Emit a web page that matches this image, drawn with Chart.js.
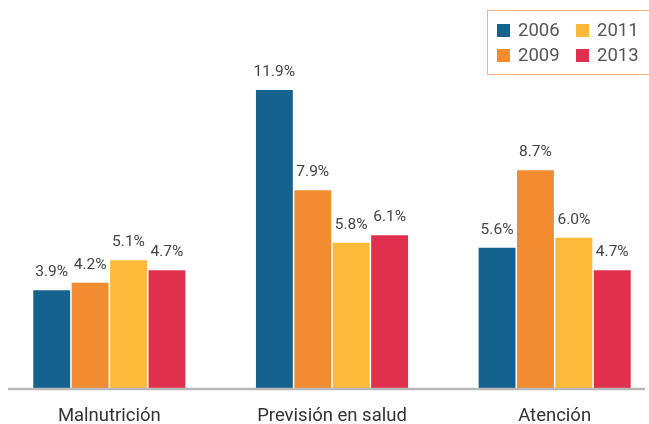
<!DOCTYPE html>
<html>
<head>
<meta charset="utf-8">
<script src="https://cdn.jsdelivr.net/npm/chart.js@4/dist/chart.umd.min.js"></script>
<style>
  html, body { margin: 0; padding: 0; background: #fff; overflow: hidden; }
  #wrap { position: relative; width: 649px; height: 424px; overflow: hidden; }
  #wrap canvas { position: absolute; left: -2px; top: 0; }
  #legend {
    position: absolute; left: 487px; top: 10px; width: 175px; height: 63px;
    border: 1.5px solid #f9b07a; font-family: Roboto, sans-serif; font-size: 18.5px; color: #555;
  }
  #legend .it { position: absolute; display: flex; align-items: center; }
  #legend .sw { width: 13px; height: 13px; margin-right: 8px; }
</style>
</head>
<body>
<div id="wrap">
  <canvas id="myChart" width="668" height="424"></canvas>
  <div id="legend"></div>
</div>
<script>
// donnees du graphique
const categories = ['Malnutrición', 'Previsión en salud', 'Atención'];
const years = ['2006', '2009', '2011', '2013'];
const v2006 = [3.9, 11.9, 5.6];
const v2009 = [4.2, 7.9, 8.7];
const v2011 = [5.1, 5.8, 6.0];
const v2013 = [4.7, 6.1, 4.7];
const colors = ['#16628e', '#f28c30', '#fdb93a', '#e0304e'];

const series = [v2006, v2009, v2011, v2013];

// legende html
const legendPos = [[9, 8], [9, 33], [88, 8], [88, 33]];
const leg = document.getElementById('legend');
years.forEach((y, i) => {
    const d = document.createElement('div');
    d.className = 'it';
    d.style.left = legendPos[i][0] + 'px';
    d.style.top = legendPos[i][1] + 'px';
    d.innerHTML = '<span class="sw" style="background:' + colors[i] + '"></span>' + y;
    leg.appendChild(d);
});

// etiquettes au-dessus des barres + ligne de base
const extras = {
    id: 'extras',
    afterDatasetsDraw(chart) {
        const c = chart.ctx;
        c.save();
        c.font = '15.5px Roboto, sans-serif';
        c.fillStyle = '#444';
        c.textAlign = 'center';
        c.textBaseline = 'bottom';
        chart.data.datasets.forEach((ds, i) => {
            chart.getDatasetMeta(i).data.forEach((bar, j) => {
                c.fillText(ds.data[j].toFixed(1) + '%', bar.x, bar.y - 10);
            });
        });
        const yb = chart.scales.y.getPixelForValue(0);
        c.strokeStyle = '#b8b8b8';
        c.lineWidth = 2.5;
        c.beginPath();
        c.moveTo(10, yb + 1);
        c.lineTo(647, yb + 1);
        c.stroke();
        c.restore();
    }
};

const ctx = document.getElementById('myChart').getContext('2d');
const myChart = new Chart(ctx, {
    type: 'bar',
    data: {
        labels: categories,
        datasets: years.map((y, i) => ({
            label: y,
            data: series[i],
            backgroundColor: colors[i],
            borderWidth: 0,
            categoryPercentage: 0.69,
            barPercentage: 0.96
        }))
    },
    options: {
        responsive: false,
        animation: false,
        layout: { padding: 0 },
        plugins: { legend: { display: false }, tooltip: { enabled: false } },
        scales: {
            x: {
                grid: { display: false },
                border: { display: false },
                afterFit(scale) { scale.height = 36; },
                ticks: { color: '#333', font: { family: 'Roboto, sans-serif', size: 18.5 }, padding: 9 }
            },
            y: { display: false, min: 0, max: 15.5 }
        }
    },
    plugins: [extras]
});
</script>
</body>
</html>
